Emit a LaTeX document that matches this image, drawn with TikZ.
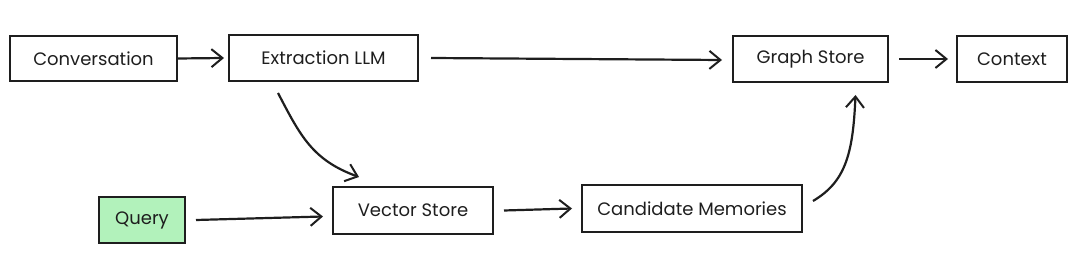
\documentclass[tikz,border=0pt]{standalone}
\usepackage{fontspec}
\setmainfont{Poppins}
\usetikzlibrary{arrows.meta}
\definecolor{qgreen}{HTML}{B2F2BB}
\definecolor{ink}{HTML}{1E1E1E}
\begin{document}
\begin{tikzpicture}[x=1pt,y=-1pt,
  box/.style={draw=ink,line width=2pt,inner sep=0pt,font=\fontsize{18}{20}\selectfont,text=ink},
  flow/.style={draw=ink,line width=2.2pt,-{Straight Barb[length=11pt,width=18pt,line width=2pt]}}]
\useasboundingbox (0,0) rectangle (1080,253);
\node[box,minimum width=167,minimum height=45] (conv) at (93.5,58.5) {Conversation};
\node[box,minimum width=189,minimum height=46] (extr) at (323.5,58) {Extraction LLM};
\node[box,minimum width=155,minimum height=46] (graph) at (810.5,59) {Graph Store};
\node[box,minimum width=110,minimum height=46] (ctx) at (1012,59) {Context};
\node[box,fill=qgreen,minimum width=86,minimum height=46] (query) at (142,220) {Query};
\node[box,minimum width=160,minimum height=47] (vec) at (413,210.5) {Vector Store};
\node[box,minimum width=220,minimum height=47] (cand) at (692,208.5) {Candidate Memories};
\coordinate (e1) at (278,93);
\coordinate (c1) at (813,201);
\draw[flow] (conv.east) -- ([xshift=-4]extr.west);
\draw[flow] ([xshift=12]extr.east) -- ([xshift=-10,yshift=-1]graph.west);
\draw[flow] ([xshift=10]graph.east) -- ([xshift=-8]ctx.west);
\draw[flow] (e1) .. controls (300,135) and (312,160) .. ([xshift=-54,yshift=9]vec.north);
\draw[flow] ([xshift=10]query.east) -- ([xshift=-9,yshift=-6]vec.west);
\draw[flow] ([xshift=10]vec.east) -- ([xshift=-9]cand.west);
\draw[flow] (c1) .. controls (845,182) and (853,155) .. ([xshift=45,yshift=-12]graph.south);
\end{tikzpicture}
\end{document}
